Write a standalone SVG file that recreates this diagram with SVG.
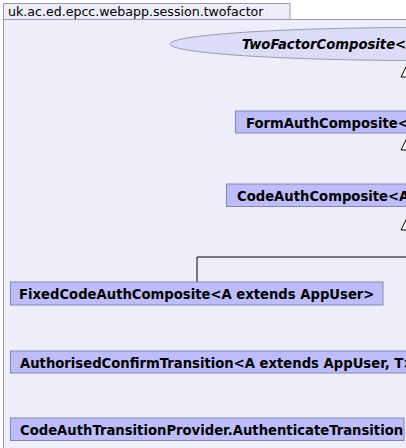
<svg xmlns="http://www.w3.org/2000/svg" width="406" height="448" viewBox="0 0 406 448">
<style>
.pkg{fill:#EEEEFA;stroke:#9A9AAA;stroke-width:1}
.cls{fill:#BDBDFC;stroke:#8585B0;stroke-width:1}
.iface{fill:#DCDCF8;stroke:#9A9AB0;stroke-width:1}
.t{font-family:"DejaVu Sans",sans-serif;font-size:13.2px;font-weight:bold;fill:#000}
.ti{font-family:"DejaVu Sans",sans-serif;font-size:13.2px;font-weight:bold;font-style:italic;fill:#000}
.pt{font-family:"DejaVu Sans",sans-serif;font-size:12.6px;fill:#000}
.edge{fill:none;stroke:#000;stroke-width:1}
.arr{fill:#fff;stroke:#000;stroke-width:1}
</style>
<g id="package">
<rect class="pkg" x="3.5" y="19.5" width="420" height="440"/>
<rect class="pkg" x="3.5" y="3.5" width="286.5" height="16"/>
<text class="pt" x="8" y="16">uk.ac.ed.epcc.webapp.session.twofactor</text>
</g>
<g id="connectors">
<line class="edge" x1="408" y1="77" x2="408" y2="111"/>
<polygon class="arr" points="408,63 401,77 415,77"/>
<line class="edge" x1="408" y1="150" x2="408" y2="183"/>
<polygon class="arr" points="408,136 401,150 415,150"/>
<polyline class="edge" points="408,230 408,257 197,257 197,282"/>
<polygon class="arr" points="408,216 401,230 415,230"/>
</g>
<g id="TwoFactorComposite">
<ellipse class="iface" cx="420" cy="44" rx="250" ry="16.5"/>
<text class="ti" x="242" y="49">TwoFactorComposite&lt;A extends AppUser&gt;</text>
</g>
<g id="FormAuthComposite">
<rect class="cls" x="235.5" y="111" width="344" height="22"/>
<text class="t" x="246" y="127.5">FormAuthComposite&lt;A extends AppUser&gt;</text>
</g>
<g id="CodeAuthComposite">
<rect class="cls" x="226.5" y="184" width="362" height="22.5"/>
<text class="t" x="237" y="200.5">CodeAuthComposite&lt;A extends AppUser&gt;</text>
</g>
<g id="FixedCodeAuthComposite">
<rect class="cls" x="10.5" y="282" width="372.5" height="23"/>
<text class="t" x="19" y="299">FixedCodeAuthComposite&lt;A extends AppUser&gt;</text>
</g>
<g id="AuthorisedConfirmTransition">
<rect class="cls" x="10.5" y="351" width="430" height="22"/>
<text class="t" x="20" y="367.5">AuthorisedConfirmTransition&lt;A extends AppUser, T&gt;</text>
</g>
<g id="AuthenticateTransition">
<rect class="cls" x="10.5" y="418" width="393.5" height="22.5"/>
<text class="t" x="20" y="434.5">CodeAuthTransitionProvider.AuthenticateTransition</text>
</g>
</svg>
